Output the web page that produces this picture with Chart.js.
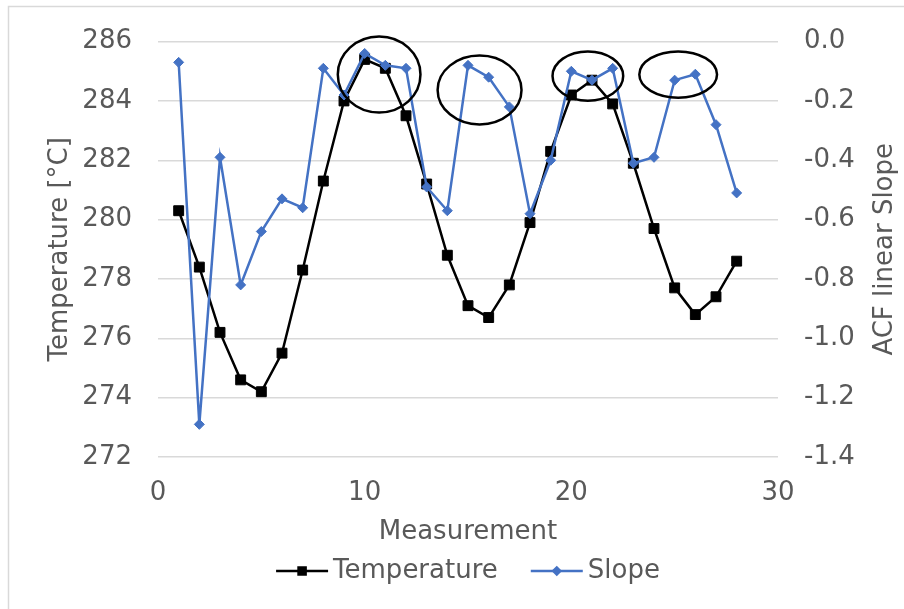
<!DOCTYPE html>
<html>
<head>
<meta charset="utf-8">
<script src="https://cdn.jsdelivr.net/npm/chart.js@4.4.1/dist/chart.umd.min.js"></script>
<style>
  html, body { margin: 0; padding: 0; background: #fff; }
</style>
</head>
<body>
<canvas id="chart" width="904" height="609"></canvas>
<script>
const measurements = [1, 2, 3, 4, 5, 6, 7, 8, 9, 10, 11, 12, 13, 14, 15, 16, 17, 18, 19, 20, 21, 22, 23, 24, 25, 26, 27, 28];
const temperature = [280.3, 278.4, 276.2, 274.6, 274.2, 275.5, 278.3, 281.3, 284.0, 285.4, 285.1, 283.5, 281.2, 278.8,
                     277.1, 276.7, 277.8, 279.9, 282.3, 284.2, 284.7, 283.9, 281.9, 279.7, 277.7, 276.8, 277.4, 278.6];
const slope = [-0.07, -1.29, -0.39, -0.82, -0.64, -0.53, -0.56, -0.09, -0.18, -0.04, -0.08, -0.09, -0.49, -0.57,
               -0.08, -0.12, -0.22, -0.58, -0.40, -0.10, -0.13, -0.09, -0.41, -0.39, -0.13, -0.11, -0.28, -0.51];

const xTicks = [0, 10, 20, 30];
const tempTicks = [272, 274, 276, 278, 280, 282, 284, 286];
const slopeTicks = [-1.4, -1.2, -1.0, -0.8, -0.6, -0.4, -0.2, 0.0];

// circled peaks, in axis units (measurement, temperature)
const circled = [
  { x: 10.7, t: 284.89, rx: 2.0, rt: 1.28 },
  { x: 15.56, t: 284.37, rx: 2.03, rt: 1.16 },
  { x: 20.8, t: 284.84, rx: 1.71, rt: 0.83 },
  { x: 25.17, t: 284.89, rx: 1.88, rt: 0.78 }
];

const textColor = '#595959';
const fontFamily = "'DejaVu Sans', Verdana, sans-serif";
const blue = '#4472C4';

const extras = {
  id: 'extras',
  beforeDraw(chart) {
    const ctx = chart.ctx;
    ctx.save();
    ctx.strokeStyle = '#d9d9d9';
    ctx.lineWidth = 1.5;
    ctx.strokeRect(8.5, 6.5, 1200, 1200);
    ctx.restore();
  },
  afterDatasetsDraw(chart) {
    const ctx = chart.ctx;
    const xs = chart.scales.x, ys = chart.scales.yTemp;
    ctx.save();
    ctx.strokeStyle = '#000';
    ctx.lineWidth = 2.5;
    circled.forEach(c => {
      const cx = xs.getPixelForValue(c.x);
      const cy = ys.getPixelForValue(c.t);
      const rx = Math.abs(xs.getPixelForValue(c.x + c.rx) - cx);
      const ry = Math.abs(ys.getPixelForValue(c.t + c.rt) - cy);
      ctx.beginPath();
      ctx.ellipse(cx, cy, rx, ry, 0, 0, Math.PI * 2);
      ctx.stroke();
    });
    ctx.restore();
  },
  afterDraw(chart) {
    const ctx = chart.ctx;
    const area = chart.chartArea;
    ctx.save();
    // secondary axis title, reading bottom to top like the primary one
    ctx.fillStyle = textColor;
    ctx.font = '26px ' + fontFamily;
    ctx.textAlign = 'center';
    ctx.textBaseline = 'middle';
    ctx.translate(885, (area.top + area.bottom) / 2);
    ctx.rotate(-Math.PI / 2);
    ctx.fillText('ACF linear Slope', 0, 0);
    ctx.restore();

    // legend: line sample with marker, then label
    ctx.save();
    ctx.font = '26px ' + fontFamily;
    ctx.textBaseline = 'middle';
    ctx.textAlign = 'left';
    const items = [
      { label: 'Temperature', color: '#000', style: 'rect', r: 5 },
      { label: 'Slope', color: blue, style: 'rectRot', r: 3.5 }
    ];
    const sample = 52, gap = 5, between = 33;
    let total = 0;
    items.forEach((it, i) => {
      it.w = ctx.measureText(it.label).width;
      total += sample + gap + it.w + (i ? between : 0);
    });
    let x = (area.left + area.right) / 2 - total / 2;
    const y = 571;
    items.forEach(it => {
      ctx.strokeStyle = it.color;
      ctx.lineWidth = 2.5;
      ctx.beginPath();
      ctx.moveTo(x, y);
      ctx.lineTo(x + sample, y);
      ctx.stroke();
      ctx.fillStyle = it.color;
      Chart.helpers.drawPoint(ctx, { pointStyle: it.style, radius: it.r, borderWidth: 1 }, x + sample / 2, y);
      ctx.fillStyle = textColor;
      ctx.fillText(it.label, x + sample + gap, y);
      x += sample + gap + it.w + between;
    });
    ctx.restore();
  }
};

new Chart(document.getElementById('chart'), {
  type: 'line',
  data: {
    datasets: [
      {
        label: 'Temperature',
        data: measurements.map((m, i) => ({ x: m, y: temperature[i] })),
        yAxisID: 'yTemp',
        borderColor: '#000',
        backgroundColor: '#000',
        borderWidth: 2.5,
        pointStyle: 'rect',
        pointRadius: 7,
        pointBorderWidth: 1,
        tension: 0,
        order: 2
      },
      {
        label: 'Slope',
        data: measurements.map((m, i) => ({ x: m, y: slope[i] })),
        yAxisID: 'ySlope',
        borderColor: blue,
        backgroundColor: blue,
        borderWidth: 2.5,
        pointStyle: 'rectRot',
        pointRadius: 5,
        pointBorderWidth: 1,
        tension: 0,
        order: 1
      }
    ]
  },
  options: {
    responsive: false,
    animation: false,
    layout: { padding: { left: 45, top: 35, right: 0, bottom: 61 } },
    plugins: {
      legend: { display: false },
      tooltip: { enabled: false }
    },
    scales: {
      x: {
        type: 'linear',
        min: xTicks[0],
        max: xTicks[xTicks.length - 1],
        afterBuildTicks: (s) => { s.ticks = xTicks.map(v => ({ value: v })); },
        afterFit: (s) => { s.height = 91; },
        grid: { display: false, drawTicks: false },
        border: { display: false },
        ticks: { color: textColor, padding: 21, font: { family: fontFamily, size: 26 } },
        title: { display: true, text: 'Measurement', color: textColor, padding: 0, font: { family: fontFamily, size: 26 } }
      },
      yTemp: {
        position: 'left',
        min: tempTicks[0],
        max: tempTicks[tempTicks.length - 1],
        afterBuildTicks: (s) => { s.ticks = tempTicks.map(v => ({ value: v })); },
        afterFit: (s) => { s.width = 113; },
        grid: { color: '#d9d9d9', lineWidth: 1.5, drawTicks: false },
        border: { display: false },
        ticks: { color: textColor, padding: 26, font: { family: fontFamily, size: 26 } },
        title: { display: true, text: 'Temperature [°C]', color: textColor, padding: 0, font: { family: fontFamily, size: 26 } }
      },
      ySlope: {
        position: 'right',
        min: slopeTicks[0],
        max: slopeTicks[slopeTicks.length - 1],
        afterBuildTicks: (s) => { s.ticks = slopeTicks.map(v => ({ value: v })); },
        afterFit: (s) => { s.width = 126; },
        grid: { display: false, drawTicks: false },
        border: { display: false },
        ticks: {
          color: textColor, padding: 26, font: { family: fontFamily, size: 26 },
          callback: (v) => v.toFixed(1)
        }
      }
    }
  },
  plugins: [extras]
});
</script>
</body>
</html>
